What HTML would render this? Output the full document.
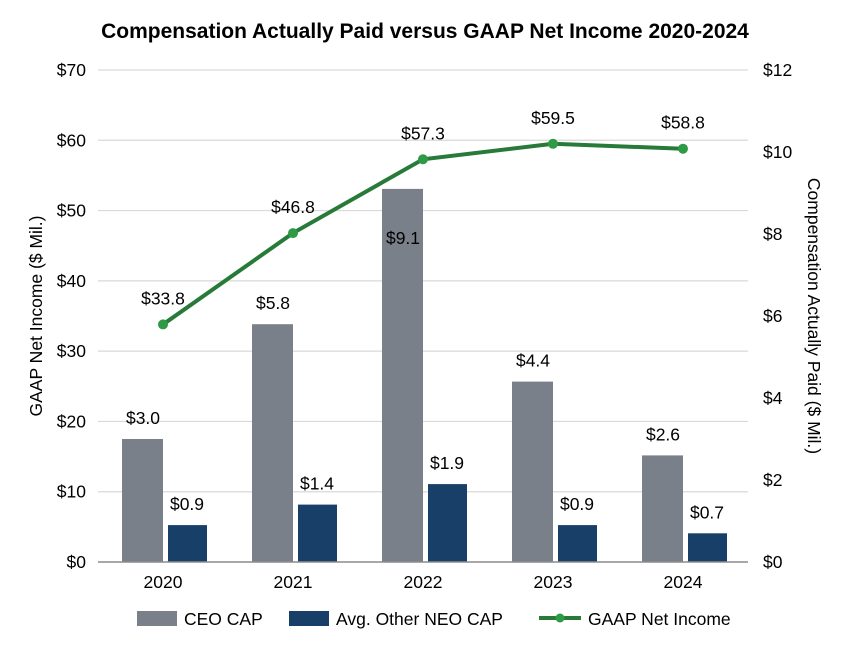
<!DOCTYPE html>
<html><head><meta charset="utf-8"><style>
body{margin:0;background:#fff;}
svg{display:block;font-family:"Liberation Sans",Arial,sans-serif;}
</style></head><body>
<svg id="chart" width="851" height="652" viewBox="0 0 851 652">
<text x="425" y="38" text-anchor="middle" font-size="21" font-weight="bold" fill="#000">Compensation Actually Paid versus GAAP Net Income 2020-2024</text>
<g id="grid"></g><g id="bars"></g><g id="line"></g><g id="labels"></g>
<text transform="translate(42,316) rotate(-90)" text-anchor="middle" font-size="17.5" fill="#000">GAAP Net Income ($ Mil.)</text>
<text transform="translate(808,316) rotate(90)" text-anchor="middle" font-size="17.5" fill="#000">Compensation Actually Paid ($ Mil.)</text>
<g>
<rect x="137" y="611" width="40" height="15" fill="#7a8089"/>
<text x="184" y="625" font-size="17.5">CEO CAP</text>
<rect x="289" y="611" width="40" height="15" fill="#173f67"/>
<text x="336" y="625" font-size="17.5">Avg. Other NEO CAP</text>
<line x1="539" y1="618" x2="581" y2="618" stroke="#277a38" stroke-width="4"/>
<circle cx="560" cy="618" r="4.5" fill="#2e9a46"/>
<text x="588" y="625" font-size="17.5">GAAP Net Income</text>
</g>
</svg>
<script>
const years=["2020","2021","2022","2023","2024"];
const ceoCap=[3.0,5.8,9.1,4.4,2.6];
const neoCap=[0.9,1.4,1.9,0.9,0.7];
const netIncome=[33.8,46.8,57.3,59.5,58.8];
const leftTicks=[0,10,20,30,40,50,60,70];
const rightTicks=[0,2,4,6,8,10,12];
const NS="http://www.w3.org/2000/svg";
const x0=98,x1=748,y0=562,y1=70;
const yL=v=>y0-(v/70)*(y0-y1);
const yR=v=>y0-(v/12)*(y0-y1);
const bw=(x1-x0)/years.length;
const xc=i=>x0+bw*(i+0.5);
const FS=17.5;
function mk(t,a,p){const e=document.createElementNS(NS,t);for(const k in a)e.setAttribute(k,a[k]);p.appendChild(e);return e;}
const g=document.getElementById('grid'),b=document.getElementById('bars'),l=document.getElementById('line'),lb=document.getElementById('labels');
leftTicks.forEach(v=>{
 if(v>0){const gl=mk('line',{x1:x0,x2:x1,y1:yL(v),y2:yL(v),stroke:'#d9d9d9','stroke-width':1.2},g);
 
 }
 const t=mk('text',{x:86,y:yL(v)+6,'text-anchor':'end','font-size':FS},g);t.textContent='$'+v;
 
 
});
rightTicks.forEach(v=>{
 const t=mk('text',{x:763,y:yR(v)+6,'font-size':FS},g);t.textContent='$'+v;
 
 
});
years.forEach((y,i)=>{
 const c=xc(i);
 const r1=mk('rect',{x:c-41,y:yR(ceoCap[i]),width:41,height:y0-yR(ceoCap[i]),fill:'#7a8089'},b);
 
 
 const r2=mk('rect',{x:c+5,y:yR(neoCap[i]),width:39,height:y0-yR(neoCap[i]),fill:'#173f67'},b);
 
 
 const t1=mk('text',{x:c-20,y:(i===2?yR(ceoCap[i])+55:yR(ceoCap[i])-15),'text-anchor':'middle','font-size':FS},lb);t1.textContent='$'+ceoCap[i].toFixed(1);
 
 
 const t2=mk('text',{x:c+24,y:yR(neoCap[i])-15,'text-anchor':'middle','font-size':FS},lb);t2.textContent='$'+neoCap[i].toFixed(1);
 
 
 const xt=mk('text',{x:c,y:y0+26,'text-anchor':'middle','font-size':FS},lb);xt.textContent=y;
 
 
});
const ax=mk('line',{x1:x0,x2:x1,y1:y0,y2:y0,stroke:'#8c8c8c','stroke-width':1.5},b);


const pl=mk('polyline',{points:netIncome.map((v,i)=>xc(i)+','+yL(v)).join(' '),fill:'none',stroke:'#277a38','stroke-width':4},l);


netIncome.forEach((v,i)=>{
 const c=mk('circle',{cx:xc(i),cy:yL(v),r:5,fill:'#2e9a46'},l);
 
 
 const t=mk('text',{x:xc(i),y:yL(v)-20,'text-anchor':'middle','font-size':FS},lb);t.textContent='$'+v.toFixed(1);
 
 
});
</script>
</body></html>
